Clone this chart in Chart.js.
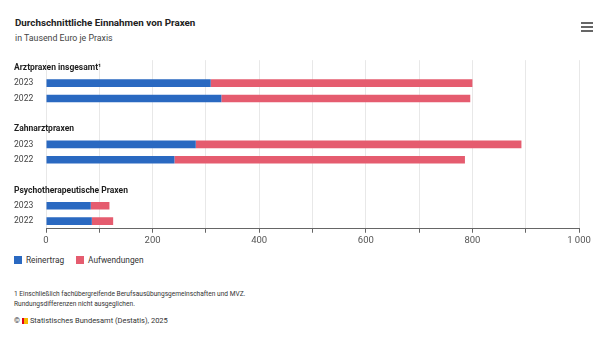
<!DOCTYPE html>
<html>
<head>
<meta charset="utf-8">
<script src="https://cdn.jsdelivr.net/npm/chart.js@4.4.1/dist/chart.umd.min.js"></script>
<style>
  html, body { margin: 0; padding: 0; background: #fff; }
  #wrap { position: relative; width: 605px; height: 337px; font-family: Roboto, sans-serif; color: #333; overflow: hidden; }
  .title { position: absolute; left: 15px; top: 17px; font-size: 9.8px; font-weight: bold; color: #222; white-space: nowrap; }
  .sub { position: absolute; left: 15px; top: 32.5px; font-size: 8.8px; color: #444; white-space: nowrap; }
  .menu { position: absolute; left: 581px; top: 22px; width: 12px; }
  .menu i { display: block; height: 2px; background: #666; margin-bottom: 2px; }
  #box { position: absolute; left: 0; top: 52px; width: 605px; height: 200px; }
  .legend { position: absolute; left: 14px; top: 255px; font-size: 8.3px; color: #333; display: flex; align-items: center; white-space: nowrap; }
  .legend span.sw { display: inline-block; width: 8px; height: 8px; margin-right: 4px; }
  .legend span.item { display: inline-flex; align-items: center; margin-right: 12px; }
  .note { position: absolute; left: 14px; font-size: 6.6px; color: #333; white-space: nowrap; }
  .copy { position: absolute; left: 14px; top: 316px; font-size: 7.5px; color: #333; white-space: nowrap; }
  .logo { display: inline-block; width: 6px; height: 6px; vertical-align: -0.5px; margin: 0 2px 0 2px; background: linear-gradient(90deg, #e2001a 0 40%, #f5b800 40% 100%); }
</style>
</head>
<body>
<div id="wrap">
  <div class="title">Durchschnittliche Einnahmen von Praxen</div>
  <div class="sub">in Tausend Euro je Praxis</div>
  <div class="menu"><i></i><i></i><i></i></div>
  <div id="box"><canvas id="chart"></canvas></div>
  <div class="legend" id="legend"></div>
  <div class="note" style="top:290px">1 Einschließlich fachübergreifende Berufsausübungsgemeinschaften und MVZ.</div>
  <div class="note" style="top:299.5px">Rundungsdifferenzen nicht ausgeglichen.</div>
  <div class="copy">©<span class="logo"></span>Statistisches Bundesamt (Destatis), 2025</div>
</div>
<script>
// groups and years (2023 above 2022 inside each group)
const groups = ['Arztpraxen insgesamt¹', 'Zahnarztpraxen', 'Psychotherapeutische Praxen'];
const years = ['2023', '2022'];
// values per group in year order, Tausend Euro
const reinertrag = [309, 329, 281, 241, 84, 86];
const aufwendungen = [491, 467, 611, 545, 35, 40];
const seriesNames = ['Reinertrag', 'Aufwendungen'];
const seriesColors = ['#2a69c1', '#e55c6f'];
const xTickValues = [0, 200, 400, 600, 800, 1000];
const xTickLabels = ['0', '200', '400', '600', '800', '1\u00a0000'];

// build rows: heading, years..., spacer
const labels = [];
const headingRows = [];
const rein = [];
const aufw = [];
groups.forEach((g, gi) => {
  headingRows.push(labels.length);
  labels.push(g); rein.push(null); aufw.push(null);
  years.forEach((y, yi) => {
    labels.push(y);
    rein.push(reinertrag[gi * years.length + yi]);
    aufw.push(aufwendungen[gi * years.length + yi]);
  });
  if (gi < groups.length - 1) { labels.push(''); rein.push(null); aufw.push(null); }
});

const legendEl = document.getElementById('legend');
seriesNames.forEach((n, i) => {
  const item = document.createElement('span');
  item.className = 'item';
  item.innerHTML = '<span class="sw" style="background:' + seriesColors[i] + '"></span>' + n;
  legendEl.appendChild(item);
});

// group headings overflow the y axis box, so they are drawn after the chart
const groupHeadings = {
  id: 'groupHeadings',
  afterDraw(chart) {
    const { ctx, scales: { y } } = chart;
    ctx.save();
    ctx.font = 'bold 8.5px Roboto, sans-serif';
    ctx.fillStyle = '#1e1e1e';
    ctx.textBaseline = 'middle';
    ctx.textAlign = 'left';
    headingRows.forEach((row) => {
      ctx.fillText(labels[row], y.left, y.getPixelForValue(row));
    });
    ctx.restore();
  }
};

Chart.defaults.font.family = 'Roboto, sans-serif';

new Chart(document.getElementById('chart'), {
  type: 'bar',
  data: {
    labels,
    datasets: [
      { label: seriesNames[0], data: rein, backgroundColor: seriesColors[0] },
      { label: seriesNames[1], data: aufw, backgroundColor: seriesColors[1] }
    ]
  },
  options: {
    indexAxis: 'y',
    responsive: true,
    maintainAspectRatio: false,
    animation: false,
    datasets: { bar: { categoryPercentage: 1, barPercentage: 0.5 } },
    layout: { padding: { left: 14, right: 26, top: 6.25, bottom: 3.25 } },
    scales: {
      x: {
        stacked: true,
        min: 0,
        max: 1000,
        afterFit: (s) => { s.height = 20; },
        afterBuildTicks: (s) => { s.ticks = [0, 100, 200, 300, 400, 500, 600, 700, 800, 900, 1000].map((v) => ({ value: v })); },
        ticks: {
          padding: 2,
          color: '#555',
          font: { size: 9.5 },
          maxRotation: 0,
          autoSkip: false,
          callback: (v) => { const i = xTickValues.indexOf(v); return i >= 0 ? xTickLabels[i] : ''; }
        },
        grid: { color: '#e8e8e8', tickColor: '#666', tickLength: 4 },
        border: { display: true, color: '#666' }
      },
      y: {
        stacked: true,
        afterFit: (s) => { s.width = 32; },
        ticks: {
          autoSkip: false,
          crossAlign: 'far',
          color: '#444',
          font: { size: 8.6 },
          callback: (v, i) => headingRows.includes(i) ? '' : labels[i]
        },
        grid: { display: false },
        border: { display: false }
      }
    },
    plugins: {
      legend: { display: false },
      tooltip: { enabled: false }
    }
  },
  plugins: [groupHeadings]
});
</script>
</body>
</html>
